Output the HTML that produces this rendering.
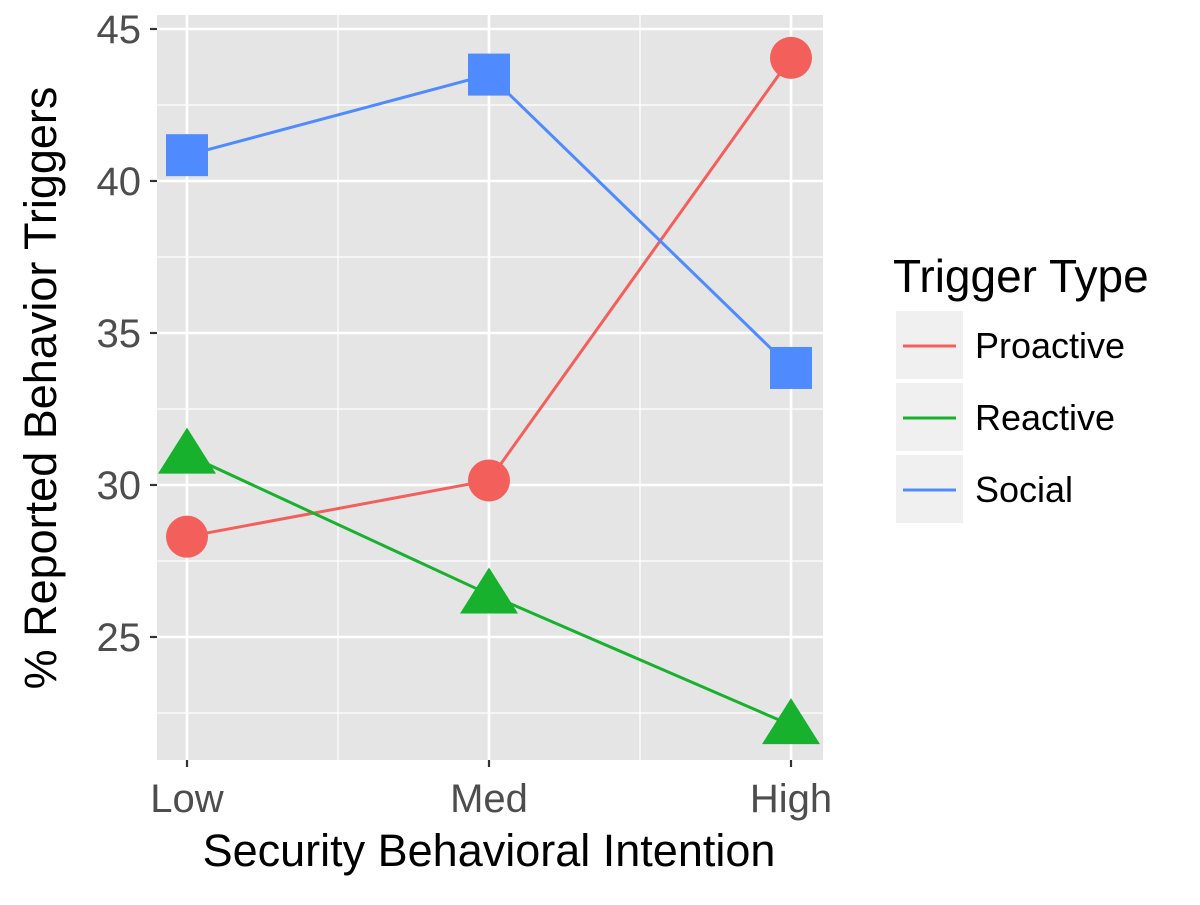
<!DOCTYPE html>
<html><head><meta charset="utf-8"><style>
body{margin:0;background:#fff;font-family:"Liberation Sans",Arial,sans-serif}
</style></head><body>
<svg id="c" width="1200" height="900" xmlns="http://www.w3.org/2000/svg"></svg>
<script>
const categories=["Low","Med","High"];
const proactive=[28.3,30.15,44.05];
const reactive=[31.0,26.4,22.1];
const social=[40.85,43.5,33.85];
const yTicks=[25,30,35,40,45];
const yMinor=[22.5,27.5,32.5,37.5,42.5];
const seriesNames=["Proactive","Reactive","Social"];
const colors=["#F35F5B","#17B12D","#4F8BFF"];
const ns="http://www.w3.org/2000/svg";
const svg=document.getElementById('c');
const P={l:157,r:823,t:15,b:760};
const y=v=>29+(45-v)*30.4;
const x=i=>187+i*302;
function el(t,a,p){const e=document.createElementNS(ns,t);for(const k in a)e.setAttribute(k,a[k]);(p||svg).appendChild(e);return e;}
const bg=el('rect',{x:P.l,y:P.t,width:P.r-P.l,height:P.b-P.t,fill:'#E5E5E5'});


yMinor.forEach(v=>{const l=el('line',{x1:P.l,x2:P.r,y1:y(v),y2:y(v),stroke:'#fff','stroke-width':1.2});

});
[0.5,1.5].forEach(i=>{const l=el('line',{x1:x(i),x2:x(i),y1:P.t,y2:P.b,stroke:'#fff','stroke-width':1.2});

});
yTicks.forEach(v=>{const l=el('line',{x1:P.l,x2:P.r,y1:y(v),y2:y(v),stroke:'#fff','stroke-width':2.6});


el('line',{x1:P.l-7,x2:P.l,y1:y(v),y2:y(v),stroke:'#333','stroke-width':2.2});
const t=el('text',{x:141,y:y(v)+14,'text-anchor':'end','font-size':40,fill:'#4D4D4D'});t.textContent=v;

});
categories.forEach((c,i)=>{const l=el('line',{x1:x(i),x2:x(i),y1:P.t,y2:P.b,stroke:'#fff','stroke-width':2.6});


el('line',{x1:x(i),x2:x(i),y1:P.b,y2:P.b+7,stroke:'#333','stroke-width':2.2});
const t=el('text',{x:x(i),y:812,'text-anchor':'middle','font-size':40,fill:'#4D4D4D'});t.textContent=c;

});
[proactive,reactive,social].forEach((s,k)=>{
const pl=el('polyline',{points:s.map((v,i)=>x(i)+','+y(v)).join(' '),fill:'none',stroke:colors[k],'stroke-width':3});


s.forEach((v,i)=>{let m;const cx=x(i),cy=y(v);
if(k==0)m=el('circle',{cx,cy,r:21,fill:colors[k]});
else if(k==1)m=el('polygon',{points:`${cx},${cy-27} ${cx+29},${cy+19} ${cx-29},${cy+19}`,fill:colors[k]});
else m=el('rect',{x:cx-21,y:cy-21,width:42,height:42,fill:colors[k]});

});});
let t=el('text',{x:489,y:866,'text-anchor':'middle','font-size':45,fill:'#000'});t.textContent='Security Behavioral Intention';


t=el('text',{x:0,y:0,'text-anchor':'middle','font-size':45,fill:'#000',transform:'translate(56,388) rotate(-90)'});t.textContent='% Reported Behavior Triggers';


t=el('text',{x:893,y:292,'font-size':46,fill:'#000'});t.textContent='Trigger Type';


seriesNames.forEach((n,k)=>{const y0=311+k*72;
const g=el('g',{});


el('rect',{x:896,y:y0,width:67,height:68,fill:'#F0F0F0'},g);
el('line',{x1:903,x2:956,y1:y0+35,y2:y0+35,stroke:colors[k],'stroke-width':3},g);
const tt=el('text',{x:975,y:y0+47,'font-size':36,fill:'#000'},g);tt.textContent=n;});
</script>
</body></html>
